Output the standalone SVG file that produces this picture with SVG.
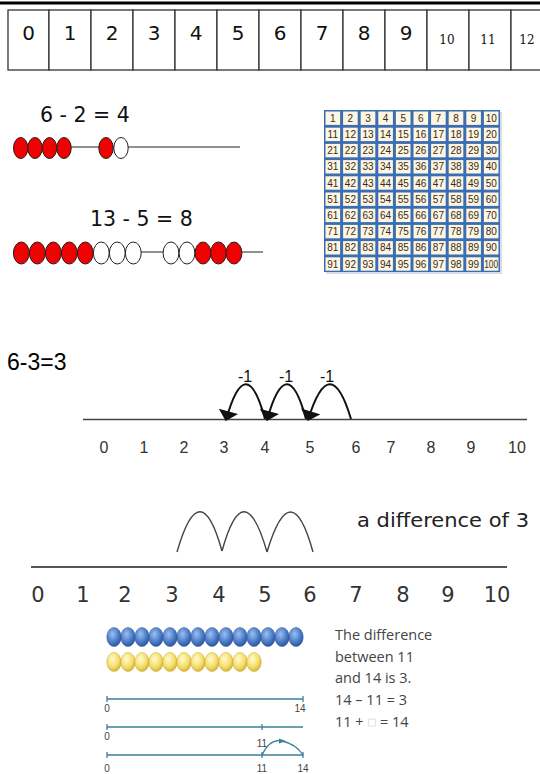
<svg xmlns="http://www.w3.org/2000/svg" width="540" height="774" viewBox="0 0 540 774">
<style>
.cell{fill:#fff;stroke:#333;stroke-width:1.3}
.dg{font-family:"DejaVu Sans",Verdana,sans-serif;font-size:20px;fill:#111;text-anchor:middle}
.ds{font-family:"DejaVu Serif","Liberation Serif",serif;font-size:12px;fill:#111;text-anchor:middle}
.eq{font-family:"DejaVu Sans",sans-serif;font-size:20.5px;fill:#111}
.red{fill:#f00000;stroke:#222;stroke-width:1}
.wht{fill:#fff;stroke:#222;stroke-width:1}
.wire{stroke:#222;stroke-width:1.2;fill:none}
.hs text{font-family:"Liberation Sans Narrow","Liberation Sans",sans-serif;font-size:10px;fill:#3b2a18;text-anchor:middle}
.nl1{font-family:"Liberation Sans",Arial,sans-serif;font-size:16px;fill:#333;text-anchor:middle}
.m1{font-family:"Liberation Sans",Arial,sans-serif;font-size:16px;fill:#111;text-anchor:middle}
.arc{fill:none;stroke:#111;stroke-width:2}
.nl2{font-family:"DejaVu Sans",sans-serif;font-size:21px;fill:#333;text-anchor:middle}
.arc2{fill:none;stroke:#444;stroke-width:1.4}
.bl{stroke:#3d7f98;stroke-width:1.3;fill:none}
.bt{font-family:"Liberation Sans",sans-serif;font-size:10px;fill:#444;text-anchor:middle}
.tx{font-family:"Open Sans","Liberation Sans",sans-serif;font-size:14.5px;fill:#444}
</style>
<defs>
<marker id="ah" viewBox="0 0 10 20" refX="9" refY="10" markerWidth="11" markerHeight="20" markerUnits="userSpaceOnUse" orient="auto">
<path d="M0,0 L10,10 L0,20 z" fill="#111"/>
</marker>
<radialGradient id="gb" cx="0.4" cy="0.35" r="0.7">
<stop offset="0" stop-color="#9cc0ee"/><stop offset="0.6" stop-color="#4a7cc8"/><stop offset="1" stop-color="#2a5098"/>
</radialGradient>
<radialGradient id="gy" cx="0.4" cy="0.35" r="0.7">
<stop offset="0" stop-color="#fffbd0"/><stop offset="0.6" stop-color="#f5de6a"/><stop offset="1" stop-color="#d2ae30"/>
</radialGradient>
</defs>
<rect width="540" height="774" fill="#fff"/>

<g id="number-strip">
<line x1="0" y1="3" x2="540" y2="3" stroke="#000" stroke-width="3"/>
<rect class="cell" x="8" y="10" width="41" height="60"/>
<rect class="cell" x="49" y="10" width="42" height="60"/>
<rect class="cell" x="91" y="10" width="42" height="60"/>
<rect class="cell" x="133" y="10" width="42" height="60"/>
<rect class="cell" x="175" y="10" width="42" height="60"/>
<rect class="cell" x="217" y="10" width="42" height="60"/>
<rect class="cell" x="259" y="10" width="42" height="60"/>
<rect class="cell" x="301" y="10" width="42" height="60"/>
<rect class="cell" x="343" y="10" width="42" height="60"/>
<rect class="cell" x="385" y="10" width="42" height="60"/>
<rect class="cell" x="427" y="10" width="42" height="60"/>
<rect class="cell" x="469" y="10" width="42" height="60"/>
<rect class="cell" x="511" y="10" width="42" height="60"/>
<text class="dg" x="28.5" y="40">0</text>
<text class="dg" x="70" y="40">1</text>
<text class="dg" x="112" y="40">2</text>
<text class="dg" x="154" y="40">3</text>
<text class="dg" x="196" y="40">4</text>
<text class="dg" x="238" y="40">5</text>
<text class="dg" x="280" y="40">6</text>
<text class="dg" x="322" y="40">7</text>
<text class="dg" x="364" y="40">8</text>
<text class="dg" x="406" y="40">9</text>
<text class="ds" x="447" y="44">10</text>
<text class="ds" x="488" y="44">11</text>
<text class="ds" x="527" y="44">12</text>
</g>

<g id="bead-string-1">
<text class="eq" x="40" y="122">6 - 2 = 4</text>
<line class="wire" x1="70" y1="147" x2="240" y2="147"/>
<ellipse class="red" cx="20.7" cy="148" rx="7.2" ry="10.5"/>
<ellipse class="red" cx="35" cy="148" rx="7.2" ry="10.5"/>
<ellipse class="red" cx="49.5" cy="148" rx="7.2" ry="10.5"/>
<ellipse class="red" cx="64" cy="148" rx="7.2" ry="10.5"/>
<ellipse class="red" cx="106" cy="148" rx="7.2" ry="10.5"/>
<ellipse class="wht" cx="121" cy="148" rx="7.2" ry="10.5"/>
</g>

<g id="bead-string-2">
<text class="eq" x="90" y="226">13 - 5 = 8</text>
<line class="wire" x1="140" y1="252" x2="263" y2="252"/>
<ellipse class="red" cx="21.3" cy="253" rx="7.9" ry="11"/>
<ellipse class="red" cx="37.3" cy="253" rx="7.9" ry="11"/>
<ellipse class="red" cx="53.3" cy="253" rx="7.9" ry="11"/>
<ellipse class="red" cx="69.3" cy="253" rx="7.9" ry="11"/>
<ellipse class="red" cx="85.3" cy="253" rx="7.9" ry="11"/>
<ellipse class="wht" cx="101.3" cy="253" rx="7.9" ry="11"/>
<ellipse class="wht" cx="117.3" cy="253" rx="7.9" ry="11"/>
<ellipse class="wht" cx="133.3" cy="253" rx="7.9" ry="11"/>
<ellipse class="wht" cx="171" cy="253" rx="7.9" ry="11"/>
<ellipse class="wht" cx="187" cy="253" rx="7.9" ry="11"/>
<ellipse class="red" cx="203" cy="253" rx="7.9" ry="11"/>
<ellipse class="red" cx="218.5" cy="253" rx="7.9" ry="11"/>
<ellipse class="red" cx="234" cy="253" rx="7.9" ry="11"/>
</g>

<g id="hundred-square" class="hs">
<rect x="326" y="112" width="176" height="162" fill="#b8c8e0" opacity="0.6"/>
<rect x="324" y="110" width="176" height="162" fill="#3a6db3"/>
<g fill="#fcf6e2">
<rect x="325.5" y="111.5" width="14.6" height="13.4"/><rect x="343.1" y="111.5" width="14.6" height="13.4"/><rect x="360.7" y="111.5" width="14.6" height="13.4"/><rect x="378.3" y="111.5" width="14.6" height="13.4"/><rect x="395.9" y="111.5" width="14.6" height="13.4"/><rect x="413.5" y="111.5" width="14.6" height="13.4"/><rect x="431.1" y="111.5" width="14.6" height="13.4"/><rect x="448.7" y="111.5" width="14.6" height="13.4"/><rect x="466.3" y="111.5" width="14.6" height="13.4"/><rect x="483.9" y="111.5" width="14.6" height="13.4"/>
<rect x="325.5" y="127.7" width="14.6" height="13.4"/><rect x="343.1" y="127.7" width="14.6" height="13.4"/><rect x="360.7" y="127.7" width="14.6" height="13.4"/><rect x="378.3" y="127.7" width="14.6" height="13.4"/><rect x="395.9" y="127.7" width="14.6" height="13.4"/><rect x="413.5" y="127.7" width="14.6" height="13.4"/><rect x="431.1" y="127.7" width="14.6" height="13.4"/><rect x="448.7" y="127.7" width="14.6" height="13.4"/><rect x="466.3" y="127.7" width="14.6" height="13.4"/><rect x="483.9" y="127.7" width="14.6" height="13.4"/>
<rect x="325.5" y="143.9" width="14.6" height="13.4"/><rect x="343.1" y="143.9" width="14.6" height="13.4"/><rect x="360.7" y="143.9" width="14.6" height="13.4"/><rect x="378.3" y="143.9" width="14.6" height="13.4"/><rect x="395.9" y="143.9" width="14.6" height="13.4"/><rect x="413.5" y="143.9" width="14.6" height="13.4"/><rect x="431.1" y="143.9" width="14.6" height="13.4"/><rect x="448.7" y="143.9" width="14.6" height="13.4"/><rect x="466.3" y="143.9" width="14.6" height="13.4"/><rect x="483.9" y="143.9" width="14.6" height="13.4"/>
<rect x="325.5" y="160.1" width="14.6" height="13.4"/><rect x="343.1" y="160.1" width="14.6" height="13.4"/><rect x="360.7" y="160.1" width="14.6" height="13.4"/><rect x="378.3" y="160.1" width="14.6" height="13.4"/><rect x="395.9" y="160.1" width="14.6" height="13.4"/><rect x="413.5" y="160.1" width="14.6" height="13.4"/><rect x="431.1" y="160.1" width="14.6" height="13.4"/><rect x="448.7" y="160.1" width="14.6" height="13.4"/><rect x="466.3" y="160.1" width="14.6" height="13.4"/><rect x="483.9" y="160.1" width="14.6" height="13.4"/>
<rect x="325.5" y="176.3" width="14.6" height="13.4"/><rect x="343.1" y="176.3" width="14.6" height="13.4"/><rect x="360.7" y="176.3" width="14.6" height="13.4"/><rect x="378.3" y="176.3" width="14.6" height="13.4"/><rect x="395.9" y="176.3" width="14.6" height="13.4"/><rect x="413.5" y="176.3" width="14.6" height="13.4"/><rect x="431.1" y="176.3" width="14.6" height="13.4"/><rect x="448.7" y="176.3" width="14.6" height="13.4"/><rect x="466.3" y="176.3" width="14.6" height="13.4"/><rect x="483.9" y="176.3" width="14.6" height="13.4"/>
<rect x="325.5" y="192.5" width="14.6" height="13.4"/><rect x="343.1" y="192.5" width="14.6" height="13.4"/><rect x="360.7" y="192.5" width="14.6" height="13.4"/><rect x="378.3" y="192.5" width="14.6" height="13.4"/><rect x="395.9" y="192.5" width="14.6" height="13.4"/><rect x="413.5" y="192.5" width="14.6" height="13.4"/><rect x="431.1" y="192.5" width="14.6" height="13.4"/><rect x="448.7" y="192.5" width="14.6" height="13.4"/><rect x="466.3" y="192.5" width="14.6" height="13.4"/><rect x="483.9" y="192.5" width="14.6" height="13.4"/>
<rect x="325.5" y="208.7" width="14.6" height="13.4"/><rect x="343.1" y="208.7" width="14.6" height="13.4"/><rect x="360.7" y="208.7" width="14.6" height="13.4"/><rect x="378.3" y="208.7" width="14.6" height="13.4"/><rect x="395.9" y="208.7" width="14.6" height="13.4"/><rect x="413.5" y="208.7" width="14.6" height="13.4"/><rect x="431.1" y="208.7" width="14.6" height="13.4"/><rect x="448.7" y="208.7" width="14.6" height="13.4"/><rect x="466.3" y="208.7" width="14.6" height="13.4"/><rect x="483.9" y="208.7" width="14.6" height="13.4"/>
<rect x="325.5" y="224.9" width="14.6" height="13.4"/><rect x="343.1" y="224.9" width="14.6" height="13.4"/><rect x="360.7" y="224.9" width="14.6" height="13.4"/><rect x="378.3" y="224.9" width="14.6" height="13.4"/><rect x="395.9" y="224.9" width="14.6" height="13.4"/><rect x="413.5" y="224.9" width="14.6" height="13.4"/><rect x="431.1" y="224.9" width="14.6" height="13.4"/><rect x="448.7" y="224.9" width="14.6" height="13.4"/><rect x="466.3" y="224.9" width="14.6" height="13.4"/><rect x="483.9" y="224.9" width="14.6" height="13.4"/>
<rect x="325.5" y="241.1" width="14.6" height="13.4"/><rect x="343.1" y="241.1" width="14.6" height="13.4"/><rect x="360.7" y="241.1" width="14.6" height="13.4"/><rect x="378.3" y="241.1" width="14.6" height="13.4"/><rect x="395.9" y="241.1" width="14.6" height="13.4"/><rect x="413.5" y="241.1" width="14.6" height="13.4"/><rect x="431.1" y="241.1" width="14.6" height="13.4"/><rect x="448.7" y="241.1" width="14.6" height="13.4"/><rect x="466.3" y="241.1" width="14.6" height="13.4"/><rect x="483.9" y="241.1" width="14.6" height="13.4"/>
<rect x="325.5" y="257.3" width="14.6" height="13.4"/><rect x="343.1" y="257.3" width="14.6" height="13.4"/><rect x="360.7" y="257.3" width="14.6" height="13.4"/><rect x="378.3" y="257.3" width="14.6" height="13.4"/><rect x="395.9" y="257.3" width="14.6" height="13.4"/><rect x="413.5" y="257.3" width="14.6" height="13.4"/><rect x="431.1" y="257.3" width="14.6" height="13.4"/><rect x="448.7" y="257.3" width="14.6" height="13.4"/><rect x="466.3" y="257.3" width="14.6" height="13.4"/><rect x="483.9" y="257.3" width="14.6" height="13.4"/>
</g>
<text x="332.8" y="121.8">1</text><text x="350.4" y="121.8">2</text><text x="368" y="121.8">3</text><text x="385.6" y="121.8">4</text><text x="403.2" y="121.8">5</text><text x="420.8" y="121.8">6</text><text x="438.4" y="121.8">7</text><text x="456" y="121.8">8</text><text x="473.6" y="121.8">9</text><text x="491.2" y="121.8">10</text>
<text x="332.8" y="138">11</text><text x="350.4" y="138">12</text><text x="368" y="138">13</text><text x="385.6" y="138">14</text><text x="403.2" y="138">15</text><text x="420.8" y="138">16</text><text x="438.4" y="138">17</text><text x="456" y="138">18</text><text x="473.6" y="138">19</text><text x="491.2" y="138">20</text>
<text x="332.8" y="154.2">21</text><text x="350.4" y="154.2">22</text><text x="368" y="154.2">23</text><text x="385.6" y="154.2">24</text><text x="403.2" y="154.2">25</text><text x="420.8" y="154.2">26</text><text x="438.4" y="154.2">27</text><text x="456" y="154.2">28</text><text x="473.6" y="154.2">29</text><text x="491.2" y="154.2">30</text>
<text x="332.8" y="170.4">31</text><text x="350.4" y="170.4">32</text><text x="368" y="170.4">33</text><text x="385.6" y="170.4">34</text><text x="403.2" y="170.4">35</text><text x="420.8" y="170.4">36</text><text x="438.4" y="170.4">37</text><text x="456" y="170.4">38</text><text x="473.6" y="170.4">39</text><text x="491.2" y="170.4">40</text>
<text x="332.8" y="186.6">41</text><text x="350.4" y="186.6">42</text><text x="368" y="186.6">43</text><text x="385.6" y="186.6">44</text><text x="403.2" y="186.6">45</text><text x="420.8" y="186.6">46</text><text x="438.4" y="186.6">47</text><text x="456" y="186.6">48</text><text x="473.6" y="186.6">49</text><text x="491.2" y="186.6">50</text>
<text x="332.8" y="202.8">51</text><text x="350.4" y="202.8">52</text><text x="368" y="202.8">53</text><text x="385.6" y="202.8">54</text><text x="403.2" y="202.8">55</text><text x="420.8" y="202.8">56</text><text x="438.4" y="202.8">57</text><text x="456" y="202.8">58</text><text x="473.6" y="202.8">59</text><text x="491.2" y="202.8">60</text>
<text x="332.8" y="219">61</text><text x="350.4" y="219">62</text><text x="368" y="219">63</text><text x="385.6" y="219">64</text><text x="403.2" y="219">65</text><text x="420.8" y="219">66</text><text x="438.4" y="219">67</text><text x="456" y="219">68</text><text x="473.6" y="219">69</text><text x="491.2" y="219">70</text>
<text x="332.8" y="235.2">71</text><text x="350.4" y="235.2">72</text><text x="368" y="235.2">73</text><text x="385.6" y="235.2">74</text><text x="403.2" y="235.2">75</text><text x="420.8" y="235.2">76</text><text x="438.4" y="235.2">77</text><text x="456" y="235.2">78</text><text x="473.6" y="235.2">79</text><text x="491.2" y="235.2">80</text>
<text x="332.8" y="251.4">81</text><text x="350.4" y="251.4">82</text><text x="368" y="251.4">83</text><text x="385.6" y="251.4">84</text><text x="403.2" y="251.4">85</text><text x="420.8" y="251.4">86</text><text x="438.4" y="251.4">87</text><text x="456" y="251.4">88</text><text x="473.6" y="251.4">89</text><text x="491.2" y="251.4">90</text>
<text x="332.8" y="267.6">91</text><text x="350.4" y="267.6">92</text><text x="368" y="267.6">93</text><text x="385.6" y="267.6">94</text><text x="403.2" y="267.6">95</text><text x="420.8" y="267.6">96</text><text x="438.4" y="267.6">97</text><text x="456" y="267.6">98</text><text x="473.6" y="267.6">99</text><text x="491.2" y="267.6" textLength="14" lengthAdjust="spacingAndGlyphs">100</text>
</g>

<g id="number-line-1">
<text x="7" y="370" font-family="Liberation Sans, Arial, sans-serif" font-size="23" fill="#000">6-3=3</text>
<line x1="83" y1="419.5" x2="527" y2="419.5" stroke="#444" stroke-width="1.5"/>
<text class="nl1" x="104" y="453">0</text>
<text class="nl1" x="144" y="453">1</text>
<text class="nl1" x="184" y="453">2</text>
<text class="nl1" x="224" y="453">3</text>
<text class="nl1" x="265" y="453">4</text>
<text class="nl1" x="310" y="453">5</text>
<text class="nl1" x="356" y="453">6</text>
<text class="nl1" x="391" y="453">7</text>
<text class="nl1" x="431" y="453">8</text>
<text class="nl1" x="471" y="453">9</text>
<text class="nl1" x="517" y="453">10</text>
<text class="m1" x="327" y="382">-1</text>
<text class="m1" x="286" y="382">-1</text>
<text class="m1" x="245" y="382">-1</text>
</g>

<g id="jumps-1">
<path class="arc" d="M351,419 Q330,349 308,420" marker-end="url(#ah)"/>
<path class="arc" d="M306,419 Q287,349 267,420" marker-end="url(#ah)"/>
<path class="arc" d="M265,419 Q246,349 226,420" marker-end="url(#ah)"/>
</g>

<g id="number-line-2">
<text x="357" y="527" font-family="DejaVu Sans, sans-serif" font-size="20" fill="#222" textLength="172" lengthAdjust="spacingAndGlyphs">a difference of 3</text>
<line x1="31" y1="567" x2="507" y2="567" stroke="#555" stroke-width="2"/>
<text class="nl2" x="38" y="602">0</text>
<text class="nl2" x="83" y="602">1</text>
<text class="nl2" x="125" y="602">2</text>
<text class="nl2" x="172" y="602">3</text>
<text class="nl2" x="219" y="602">4</text>
<text class="nl2" x="265" y="602">5</text>
<text class="nl2" x="310" y="602">6</text>
<text class="nl2" x="356" y="602">7</text>
<text class="nl2" x="403" y="602">8</text>
<text class="nl2" x="448" y="602">9</text>
<text class="nl2" x="497" y="602">10</text>
</g>

<g id="jumps-2">
<path class="arc2" d="M177,552 Q200,472 222,551"/>
<path class="arc2" d="M222,551 Q244,472 267,552"/>
<path class="arc2" d="M267,552 Q291,472 313,552"/>
</g>

<g id="bar-beads">
<g fill="url(#gb)" stroke="#2a4f90" stroke-width="0.5">
<ellipse cx="114" cy="637" rx="7.2" ry="9.5"/><ellipse cx="128" cy="637" rx="7.2" ry="9.5"/><ellipse cx="142" cy="637" rx="7.2" ry="9.5"/><ellipse cx="156" cy="637" rx="7.2" ry="9.5"/><ellipse cx="170" cy="637" rx="7.2" ry="9.5"/><ellipse cx="184" cy="637" rx="7.2" ry="9.5"/><ellipse cx="198" cy="637" rx="7.2" ry="9.5"/><ellipse cx="212" cy="637" rx="7.2" ry="9.5"/><ellipse cx="226" cy="637" rx="7.2" ry="9.5"/><ellipse cx="240" cy="637" rx="7.2" ry="9.5"/><ellipse cx="254" cy="637" rx="7.2" ry="9.5"/><ellipse cx="268" cy="637" rx="7.2" ry="9.5"/><ellipse cx="282" cy="637" rx="7.2" ry="9.5"/><ellipse cx="296" cy="637" rx="7.2" ry="9.5"/>
</g>
<g fill="url(#gy)" stroke="#c9a52c" stroke-width="0.5">
<ellipse cx="114" cy="662" rx="7.2" ry="9.5"/><ellipse cx="128" cy="662" rx="7.2" ry="9.5"/><ellipse cx="142" cy="662" rx="7.2" ry="9.5"/><ellipse cx="156" cy="662" rx="7.2" ry="9.5"/><ellipse cx="170" cy="662" rx="7.2" ry="9.5"/><ellipse cx="184" cy="662" rx="7.2" ry="9.5"/><ellipse cx="198" cy="662" rx="7.2" ry="9.5"/><ellipse cx="212" cy="662" rx="7.2" ry="9.5"/><ellipse cx="226" cy="662" rx="7.2" ry="9.5"/><ellipse cx="240" cy="662" rx="7.2" ry="9.5"/><ellipse cx="254" cy="662" rx="7.2" ry="9.5"/>
</g>
</g>

<g id="small-lines">
<line class="bl" x1="107" y1="699" x2="303" y2="699"/>
<line class="bl" x1="107" y1="696" x2="107" y2="702"/>
<line class="bl" x1="303" y1="696" x2="303" y2="702"/>
<text class="bt" x="107" y="712">0</text>
<text class="bt" x="300" y="712">14</text>
<line class="bl" x1="107" y1="727" x2="303" y2="727"/>
<line class="bl" x1="107" y1="724" x2="107" y2="730"/>
<line class="bl" x1="262" y1="724" x2="262" y2="730"/>
<text class="bt" x="107" y="740">0</text>
<text class="bt" x="262" y="747">11</text>
<line class="bl" x1="107" y1="755" x2="303" y2="755"/>
<line class="bl" x1="107" y1="752" x2="107" y2="758"/>
<line class="bl" x1="262" y1="752" x2="262" y2="758"/>
<line class="bl" x1="303" y1="752" x2="303" y2="758"/>
<path class="bl" d="M262,755 Q270,738 282,741 Q296,744 303,755"/>
<path d="M279,738.5 L286,741 L279,743.5 z" fill="#3d7f98"/>
<text class="bt" x="107" y="772">0</text>
<text class="bt" x="262" y="772">11</text>
<text class="bt" x="303" y="772">14</text>
</g>

<g id="difference-text" class="tx">
<text x="335" y="640">The difference</text>
<text x="335" y="662">between 11</text>
<text x="335" y="683">and 14 is 3.</text>
<text x="335" y="705">14 – 11 = 3</text>
<text x="335" y="727">11 + <tspan fill="#fff" stroke="#ddd" stroke-width="0.8">■</tspan> = 14</text>
</g>
</svg>
